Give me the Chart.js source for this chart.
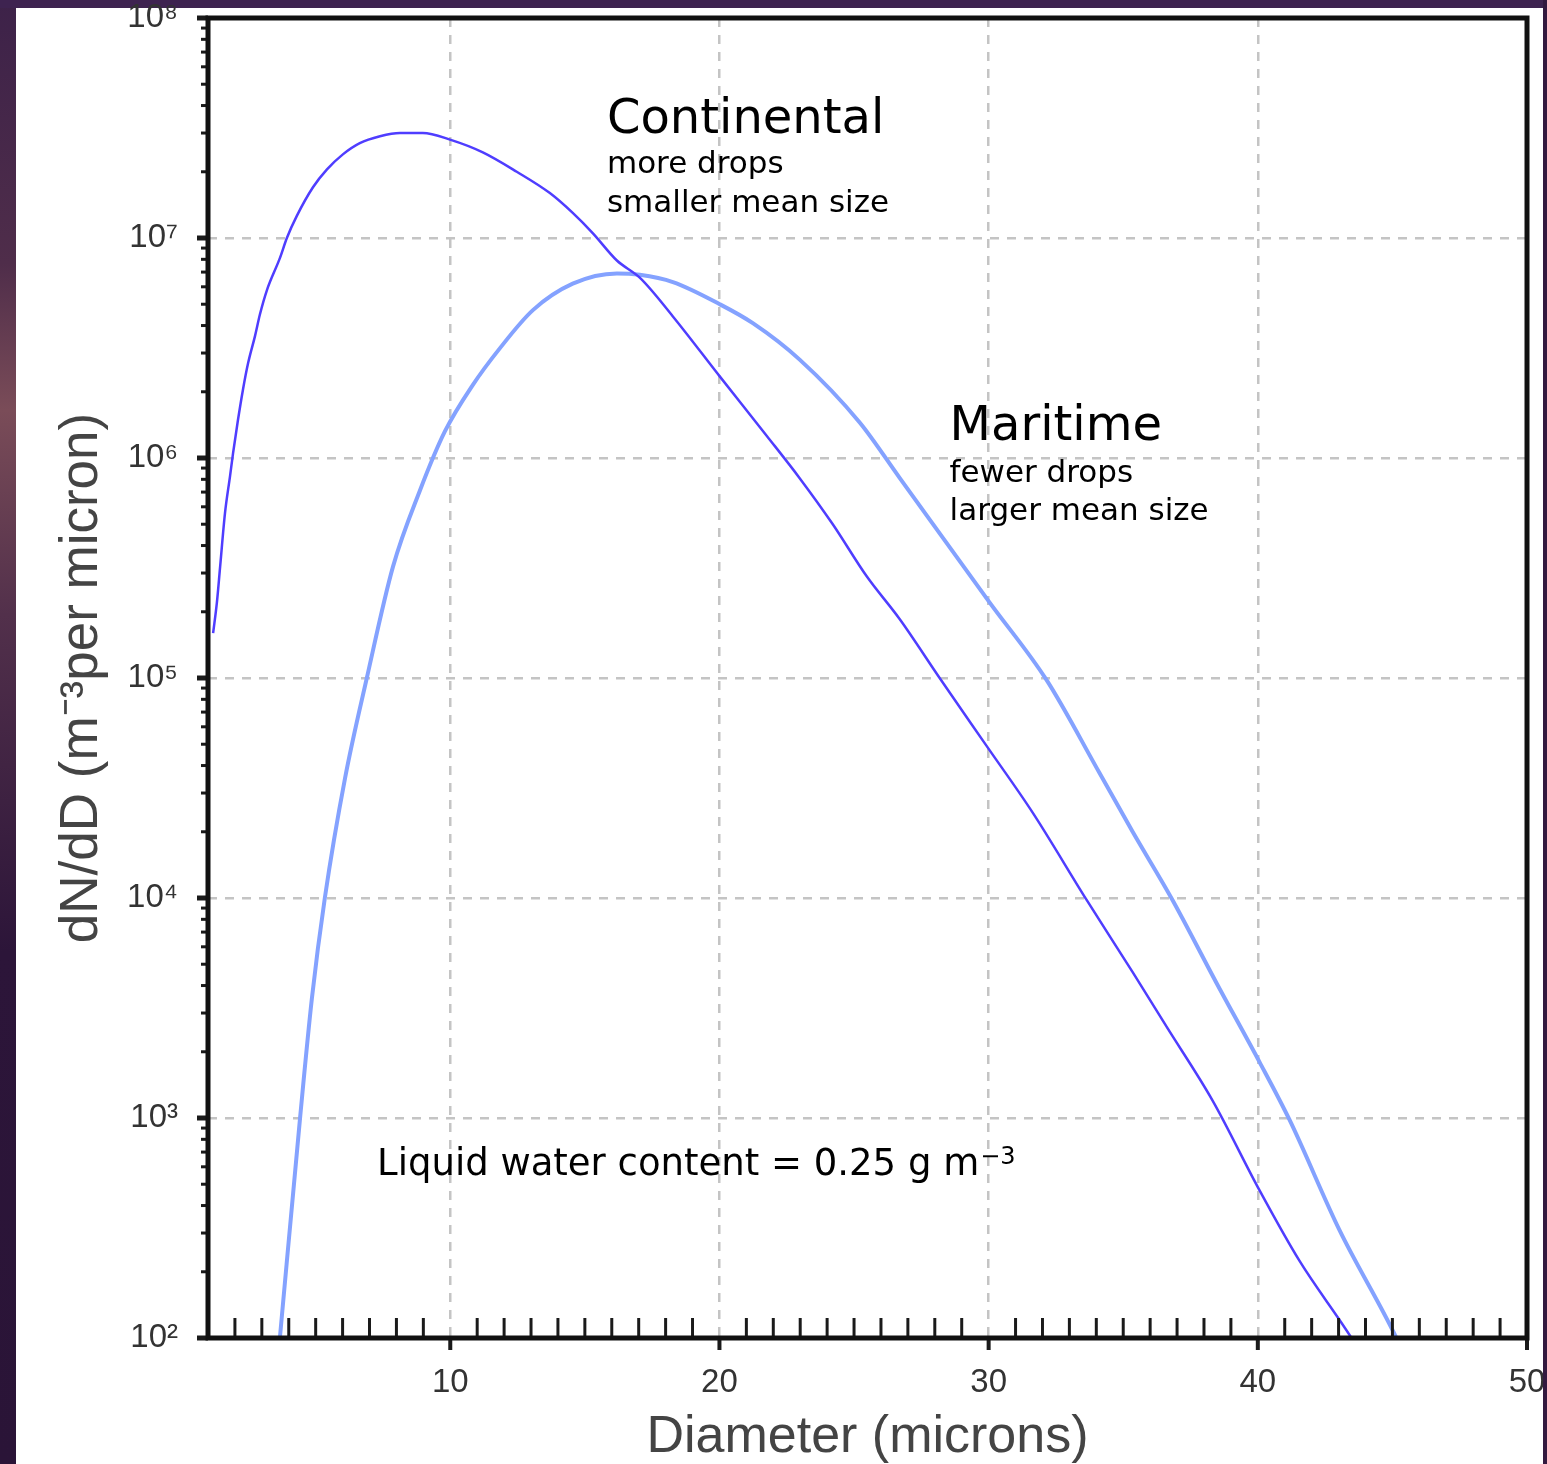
<!DOCTYPE html>
<html>
<head>
<meta charset="utf-8">
<title>Cloud drop size spectra</title>
<script src="https://cdn.jsdelivr.net/npm/chart.js@4.4.1/dist/chart.umd.min.js"></script>
<style>
  html, body { margin: 0; padding: 0; background: #3a1f47; }
  canvas { display: block; }
</style>
</head>
<body>
<canvas id="dsd" width="1547" height="1464"></canvas>
<script>
// Continental spectrum: diameter (microns) and dN/dD (m^-3 per micron)
const continentalD = [1.19, 1.33, 1.45, 1.63, 1.82, 1.93, 2.11, 2.30, 2.49, 2.75,
  2.93, 3.19, 3.67, 3.93, 4.30, 4.90, 5.42, 6.01, 6.64, 7.39,
  8.13, 8.98, 9.99, 11.21, 12.47, 13.70, 14.55, 15.30, 16.19, 17.04,
  18.27, 20.01, 21.76, 22.98, 24.21, 25.47, 26.70, 28.18, 29.93, 31.63,
  33.64, 35.35, 36.61, 38.32, 40.06, 41.55, 43.48, 44.0];
const continentalN = [1.6e5, 2.2e5, 3.2e5, 5.6e5, 8.3e5, 1.05e6, 1.48e6, 2.05e6, 2.7e6, 3.6e6,
  4.5e6, 5.8e6, 8.1e6, 1.0e7, 1.26e7, 1.7e7, 2.05e7, 2.4e7, 2.7e7, 2.9e7,
  3.0e7, 3.0e7, 2.8e7, 2.45e7, 2.0e7, 1.6e7, 1.3e7, 1.05e7, 7.9e6, 6.6e6,
  4.4e6, 2.35e6, 1.26e6, 8.1e5, 5.0e5, 2.9e5, 1.85e5, 1.0e5, 4.9e4, 2.45e4,
  9.8e3, 4.6e3, 2.6e3, 1.2e3, 470, 224, 100, 78];

// Maritime spectrum
const maritimeD = [3.67, 4.42, 4.86, 5.34, 6.09, 6.90, 7.87, 8.87, 9.80, 10.84,
  11.84, 13.07, 14.55, 16.19, 17.04, 18.27, 20.01, 21.24, 22.98, 25.21,
  26.70, 30.04, 32.15, 34.12, 35.35, 36.83, 38.47, 40.06, 41.18, 43.03,
  45.15, 45.6];
const maritimeN = [100, 1.0e3, 3.5e3, 1.0e4, 3.5e4, 1.0e5, 3.2e5, 7.1e5, 1.32e6, 2.15e6,
  3.15e6, 4.7e6, 6.2e6, 6.9e6, 6.8e6, 6.3e6, 5.0e6, 4.1e6, 2.8e6, 1.45e6,
  8.1e5, 2.2e5, 9.8e4, 3.7e4, 2.0e4, 9.8e3, 4.1e3, 1.8e3, 980, 310,
  100, 75];

const xTicks = [10, 20, 30, 40, 50];
const yTicks = [1e2, 1e3, 1e4, 1e5, 1e6, 1e7, 1e8];
const sup = { 2: "²", 3: "³", 4: "⁴", 5: "⁵", 6: "⁶", 7: "⁷", 8: "⁸" };

function pairs(xs, ys) {
  return xs.map((v, i) => ({ x: v, y: ys[i] }));
}

function seg(ctx, x1, y1, x2, y2) {
  ctx.beginPath();
  ctx.moveTo(x1, y1);
  ctx.lineTo(x2, y2);
  ctx.stroke();
}

// scales should not push the plot area in for their edge labels
function noEdgePadding(s) {
  s.paddingLeft = 0;
  s.paddingRight = 0;
  s.paddingTop = 0;
  s.paddingBottom = 0;
}

// -----------------------------------
// Background panel, frame, tick marks and notes.
const decor = {
  id: "decor",
  beforeDraw(chart) {
    let c = chart.ctx;
    let g = c.createLinearGradient(0, 0, 0, chart.height);
    g.addColorStop(0, "#3d2249");
    g.addColorStop(0.18, "#4f2d4a");
    g.addColorStop(0.28, "#7a4c58");
    g.addColorStop(0.42, "#52304b");
    g.addColorStop(0.65, "#2c1539");
    g.addColorStop(1, "#2a1437");
    c.save();
    c.fillStyle = g;
    c.fillRect(0, 0, chart.width, chart.height);
    c.fillStyle = "#3e2350";
    c.fillRect(0, 0, chart.width, 8);
    c.fillStyle = "#ffffff";
    c.fillRect(16, 8, 1527, chart.height - 8);
    c.restore();
  },
  afterDatasetsDraw(chart) {
    let c = chart.ctx;
    let a = chart.chartArea;
    let x = chart.scales.x;
    let y = chart.scales.y;
    c.save();
    c.strokeStyle = "#1a1a1a";

    // minor ticks along the bottom, pointing up into the plot
    c.lineWidth = 3;
    for (let d = 2; d < 50; d++) {
      if (d % 10 === 0) continue;
      let px = x.getPixelForValue(d);
      seg(c, px, a.bottom - 20, px, a.bottom);
    }
    // major ticks below the axis
    c.lineWidth = 4;
    xTicks.forEach((d) => {
      let px = x.getPixelForValue(d);
      seg(c, px, a.bottom, px, a.bottom + 12);
    });

    // log minor ticks on the left, pointing out
    c.lineWidth = 3;
    for (let e = 2; e < 8; e++) {
      for (let m = 2; m < 10; m++) {
        let py = y.getPixelForValue(m * Math.pow(10, e));
        seg(c, a.left - 7, py, a.left, py);
      }
    }
    c.lineWidth = 5;
    yTicks.forEach((v) => {
      let py = y.getPixelForValue(v);
      seg(c, a.left - 11, py, a.left, py);
    });

    // plot frame
    c.lineWidth = 5;
    c.strokeStyle = "#111";
    c.strokeRect(a.left, a.top, a.right - a.left, a.bottom - a.top);

    // notes
    c.fillStyle = "#000";
    c.textBaseline = "alphabetic";
    c.textAlign = "left";
    let cx = x.getPixelForValue(15.82);
    let cy = y.getPixelForValue(3.0e7);
    c.font = "48px 'DejaVu Sans'";
    c.fillText("Continental", cx, cy);
    c.font = "31px 'DejaVu Sans'";
    c.fillText("more drops", cx, cy + 40);
    c.fillText("smaller mean size", cx, cy + 79);

    let mx = x.getPixelForValue(28.55);
    let my = y.getPixelForValue(1.21e6);
    c.font = "48px 'DejaVu Sans'";
    c.fillText("Maritime", mx, my);
    c.font = "31px 'DejaVu Sans'";
    c.fillText("fewer drops", mx, my + 42);
    c.fillText("larger mean size", mx, my + 80);

    let lx = x.getPixelForValue(7.28);
    let ly = y.getPixelForValue(551);
    c.font = "37px 'DejaVu Sans'";
    let base = "Liquid water content = 0.25 g m";
    c.fillText(base, lx, ly);
    let w = c.measureText(base).width;
    c.font = "24px 'DejaVu Sans'";
    c.fillText("\u22123", lx + w + 1, ly - 11);
    c.restore();
  },
  afterDraw(chart) {
    let c = chart.ctx;
    c.save();
    c.fillStyle = "#33193f";
    c.fillRect(1543, 0, chart.width - 1543, chart.height);
    c.restore();
  },
};

Chart.defaults.font.family = "'Liberation Sans', Arial, sans-serif";

let chart = new Chart(document.getElementById("dsd"), {
  type: "line",
  data: {
    datasets: [
      {
        label: "Continental",
        data: pairs(continentalD, continentalN),
        borderColor: "#4f3dff",
        borderWidth: 2.5,
        pointRadius: 0,
        cubicInterpolationMode: "monotone",
        fill: false,
      },
      {
        label: "Maritime",
        data: pairs(maritimeD, maritimeN),
        borderColor: "#84a2ff",
        borderWidth: 4,
        pointRadius: 0,
        cubicInterpolationMode: "monotone",
        fill: false,
      },
    ],
  },
  options: {
    responsive: false,
    animation: false,
    layout: { padding: { left: 0, top: 18, right: 20, bottom: 0 } },
    plugins: { legend: { display: false }, tooltip: { enabled: false } },
    scales: {
      x: {
        type: "linear",
        min: 1,
        max: 50,
        afterBuildTicks: (s) => { s.ticks = xTicks.map((v) => ({ value: v })); },
        afterFit: (s) => { s.height = 126; noEdgePadding(s); },
        grid: { color: "#c4c4c4", lineWidth: 2.5, drawTicks: false },
        border: { display: false, dash: [9, 8] },
        ticks: {
          autoSkip: false,
          maxRotation: 0,
          padding: 28,
          color: "#333",
          font: { size: 33, lineHeight: 1 },
        },
        title: {
          display: true,
          text: "Diameter (microns)",
          color: "#444",
          font: { size: 52, lineHeight: 1 },
          padding: { top: 0, bottom: 0 },
        },
      },
      y: {
        type: "logarithmic",
        min: 1e2,
        max: 1e8,
        afterBuildTicks: (s) => { s.ticks = yTicks.map((v) => ({ value: v })); },
        afterFit: (s) => { s.width = 208; noEdgePadding(s); },
        grid: { color: "#c4c4c4", lineWidth: 2.5, drawTicks: false },
        border: { display: false, dash: [9, 8] },
        ticks: {
          padding: 30,
          color: "#333",
          font: { size: 33, lineHeight: 1 },
          callback: (v) => "10" + sup[Math.round(Math.log10(v))],
        },
        title: {
          display: true,
          text: "dN/dD (m⁻³per micron)",
          color: "#444",
          font: { size: 53, lineHeight: 1 },
          padding: { top: 56, bottom: 0 },
        },
      },
    },
  },
  plugins: [decor],
});
</script>
</body>
</html>
